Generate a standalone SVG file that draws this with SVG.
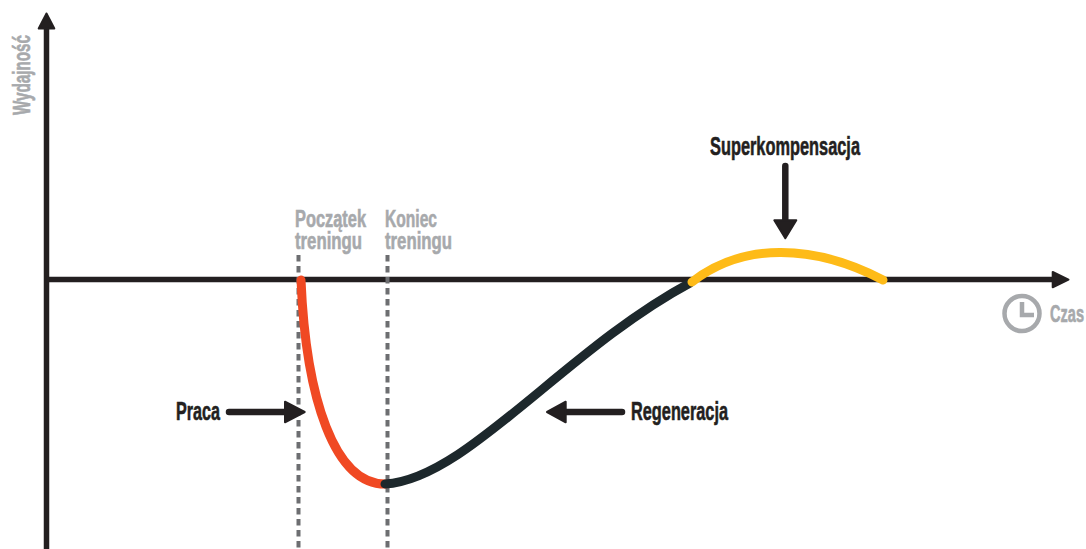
<svg xmlns="http://www.w3.org/2000/svg" width="1086" height="549" viewBox="0 0 1086 549">
<style>
text{font-family:"Liberation Sans Narrow","Liberation Sans",Arial,sans-serif;font-weight:700;stroke-width:.6}
.d{fill:#231f20;stroke:#231f20;font-size:26px}
.g{fill:#a7a9ac;stroke:#a7a9ac;font-size:23.500px}
.dash{fill:none;stroke:#6d6e71;stroke-width:4;stroke-dasharray:6.500 4.500}
.ax{fill:none;stroke:#231f20;stroke-width:5.500}
.hd{fill:#231f20;stroke:#231f20;stroke-width:2;stroke-linejoin:round}
.lead{fill:none;stroke:#231f20;stroke-width:6.500;stroke-linecap:round}
.cv{fill:none;stroke-width:9;stroke-linecap:round}
</style>
<rect width="1086" height="549" fill="#fff"/>
<g id="connectors">
<path class="ax" d="M46.500 549V28"/><path class="hd" d="M46.500 13.500L38.700 28.500H54.300Z"/>
<path class="ax" d="M46.500 279.500H1054"/><path class="hd" d="M1068.500 279.600L1052.700 272V287.300Z"/>
<path class="dash" d="M298.500 255V549"/><path class="dash" d="M387.500 255V549"/>
</g>
<g id="curve-work"><path class="cv" stroke="#f04923" d="M301 280C306 400 335 484 385 484"/></g>
<g id="curve-recovery"><path class="cv" stroke="#1d282c" d="M385 484C465 480 565 350 690 283"/></g>
<g id="curve-super"><path class="cv" stroke="#febb18" d="M692 282C742 243 812 243 883 280"/></g>
<g id="y-label"><text class="g" transform="translate(30 115) rotate(-90)" textLength="80" lengthAdjust="spacingAndGlyphs">Wydajność</text></g>
<g id="start"><text class="g" x="295" y="227" textLength="71" lengthAdjust="spacingAndGlyphs">Początek</text><text class="g" x="295" y="249" textLength="67" lengthAdjust="spacingAndGlyphs">treningu</text></g>
<g id="end"><text class="g" x="385" y="227" textLength="52" lengthAdjust="spacingAndGlyphs">Koniec</text><text class="g" x="385" y="249" textLength="67" lengthAdjust="spacingAndGlyphs">treningu</text></g>
<g id="superkompensacja"><text class="d" x="710" y="154.500" textLength="150" lengthAdjust="spacingAndGlyphs">Superkompensacja</text>
<path class="lead" d="M785.300 166V222"/><path class="hd" d="M785.300 238.300L774.300 220.300H796.300Z"/></g>
<g id="praca"><text class="d" x="176" y="419.500" textLength="44" lengthAdjust="spacingAndGlyphs">Praca</text>
<path class="lead" d="M229 412H290"/><path class="hd" d="M304.700 412L285 401.700V422.300Z"/></g>
<g id="regeneracja"><text class="d" x="631" y="419.500" textLength="97" lengthAdjust="spacingAndGlyphs">Regeneracja</text>
<path class="lead" d="M622 412H562"/><path class="hd" d="M547 412L565.700 401.700V422.300Z"/></g>
<g id="time"><circle cx="1022" cy="313.500" r="17.500" fill="none" stroke="#a7a9ac" stroke-width="4.500"/><path d="M1022 302V315H1034" fill="none" stroke="#a7a9ac" stroke-width="4.500"/>
<text class="g" x="1050" y="322" textLength="34" lengthAdjust="spacingAndGlyphs">Czas</text></g>
</svg>
